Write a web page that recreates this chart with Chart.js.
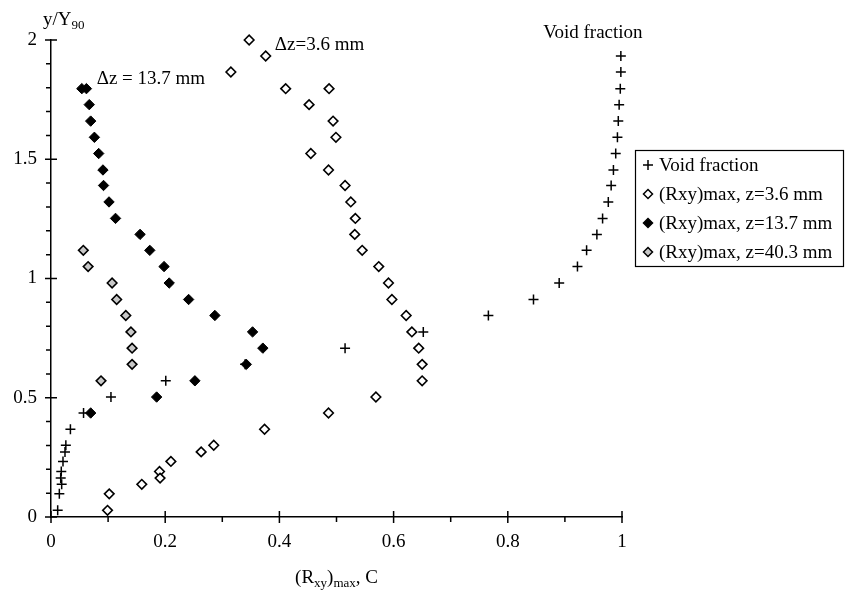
<!DOCTYPE html>
<html>
<head>
<meta charset="utf-8">
<script src="https://cdn.jsdelivr.net/npm/chart.js@4.4.1/dist/chart.umd.min.js"></script>
<style>
  body { margin: 0; background: #fff; }
  canvas { display: block; }
</style>
</head>
<body>
<canvas id="chart" width="849" height="590"></canvas>
<script>
// values
const voidX = [0.998, 0.998, 0.997, 0.995, 0.9935, 0.992, 0.989, 0.985, 0.981, 0.976, 0.966, 0.956, 0.938, 0.922,
  0.890, 0.845, 0.766, 0.652, 0.515, 0.340, 0.201, 0.105, 0.057, 0.034, 0.026, 0.0245, 0.021, 0.018, 0.017, 0.0187, 0.0146, 0.0117];
const voidY = [1.933, 1.866, 1.796, 1.729, 1.66, 1.592, 1.524, 1.455, 1.39, 1.321, 1.252, 1.185, 1.118, 1.05,
  0.981, 0.912, 0.845, 0.776, 0.708, 0.64, 0.571, 0.503, 0.436, 0.368, 0.301, 0.273, 0.233, 0.191, 0.163, 0.137, 0.097, 0.028];

const rxy36X = [0.347, 0.376, 0.315, 0.411, 0.487, 0.452, 0.494, 0.499, 0.455, 0.486, 0.515, 0.525, 0.533, 0.532, 0.545, 0.574,
  0.591, 0.597, 0.622, 0.632, 0.644, 0.650, 0.650, 0.569, 0.486, 0.374, 0.285, 0.263, 0.210, 0.190, 0.191, 0.159, 0.102, 0.099];
const rxy36Y = [2.0, 1.933, 1.866, 1.796, 1.796, 1.729, 1.66, 1.592, 1.524, 1.455, 1.39, 1.321, 1.252, 1.185, 1.118, 1.05,
  0.981, 0.912, 0.845, 0.776, 0.708, 0.64, 0.571, 0.503, 0.436, 0.368, 0.301, 0.273, 0.233, 0.191, 0.163, 0.137, 0.097, 0.028];

const rxy137X = [0.054, 0.062, 0.067, 0.0695, 0.076, 0.0835, 0.091, 0.092, 0.1016, 0.113, 0.156, 0.173, 0.198,
  0.207, 0.241, 0.287, 0.353, 0.371, 0.342, 0.252, 0.185, 0.0695];
const rxy137Y = [1.796, 1.796, 1.729, 1.66, 1.592, 1.524, 1.455, 1.39, 1.321, 1.252, 1.185, 1.118, 1.05,
  0.981, 0.912, 0.845, 0.776, 0.708, 0.64, 0.571, 0.503, 0.436];

const rxy403X = [0.0566, 0.065, 0.107, 0.115, 0.131, 0.140, 0.142, 0.142, 0.0876];
const rxy403Y = [1.118, 1.05, 0.981, 0.912, 0.845, 0.776, 0.708, 0.64, 0.571];

const seriesNames = ['Void fraction', '(Rxy)max, z=3.6 mm', '(Rxy)max, z=13.7 mm', '(Rxy)max, z=40.3 mm'];
const xMajorLabels = [0, 0.2, 0.4, 0.6, 0.8, 1];
const yMajorLabels = [0, 0.5, 1, 1.5, 2];

const FONT = '"Liberation Serif", "Times New Roman", serif';

function toPoints(xs, ys) {
  return xs.map((x, i) => ({ x: x, y: ys[i] }));
}

function isMajor(v, list) {
  return list.some(m => Math.abs(m - v) < 1e-6);
}

// draw a small legend symbol like the chart markers
function drawSymbol(ctx, kind, cx, cy) {
  ctx.save();
  ctx.lineWidth = 1.5;
  ctx.strokeStyle = '#000';
  if (kind === 'cross') {
    ctx.beginPath();
    ctx.moveTo(cx - 5, cy); ctx.lineTo(cx + 5, cy);
    ctx.moveTo(cx, cy - 5); ctx.lineTo(cx, cy + 5);
    ctx.stroke();
  } else {
    ctx.beginPath();
    ctx.moveTo(cx, cy - 4.5); ctx.lineTo(cx + 4.5, cy); ctx.lineTo(cx, cy + 4.5); ctx.lineTo(cx - 4.5, cy);
    ctx.closePath();
    ctx.fillStyle = kind;
    ctx.fill();
    ctx.stroke();
  }
  ctx.restore();
}

const decorPlugin = {
  id: 'decor',
  afterDraw(chart) {
    const ctx = chart.ctx;
    const xs = chart.scales.x, ys = chart.scales.y;
    const x0 = xs.getPixelForValue(0), y0 = ys.getPixelForValue(0);
    ctx.save();
    ctx.strokeStyle = '#000';
    ctx.lineWidth = 1.5;
    ctx.beginPath();
    ys.ticks.forEach(t => {
      const py = ys.getPixelForValue(t.value);
      if (isMajor(t.value, yMajorLabels)) { ctx.moveTo(x0 - 6, py); ctx.lineTo(x0 + 6, py); }
      else { ctx.moveTo(x0 - 5, py); ctx.lineTo(x0, py); }
    });
    xs.ticks.forEach(t => {
      const px = xs.getPixelForValue(t.value);
      if (isMajor(t.value, xMajorLabels)) { ctx.moveTo(px, y0 - 6); ctx.lineTo(px, y0 + 6); }
      else { ctx.moveTo(px, y0); ctx.lineTo(px, y0 + 5); }
    });
    ctx.stroke();

    ctx.fillStyle = '#000';
    ctx.textBaseline = 'alphabetic';
    // axis titles
    ctx.font = '19px ' + FONT;
    ctx.textAlign = 'left';
    ctx.fillText('y/Y', 43, 25);
    let w = ctx.measureText('y/Y').width;
    ctx.font = '13px ' + FONT;
    ctx.fillText('90', 43 + w, 29);

    const parts = [['(R', 19, 0], ['xy', 13, 4], [')', 19, 0], ['max', 13, 4], [', C', 19, 0]];
    let total = 0;
    parts.forEach(p => { ctx.font = p[1] + 'px ' + FONT; total += ctx.measureText(p[0]).width; });
    let tx = (chart.chartArea.left + chart.chartArea.right) / 2 - total / 2;
    parts.forEach(p => {
      ctx.font = p[1] + 'px ' + FONT;
      ctx.fillText(p[0], tx, 583 + p[2]);
      tx += ctx.measureText(p[0]).width;
    });

    // annotations
    ctx.font = '19px ' + FONT;
    ctx.textBaseline = 'middle';
    ctx.textAlign = 'center';
    ctx.fillText('Void fraction', xs.getPixelForValue(0.949), ys.getPixelForValue(2.03));
    ctx.textAlign = 'left';
    ctx.fillText('\u0394z=3.6 mm', xs.getPixelForValue(0.392), ys.getPixelForValue(1.977));
    ctx.fillText('\u0394z = 13.7 mm', xs.getPixelForValue(0.080), ys.getPixelForValue(1.835));

    // legend
    ctx.lineWidth = 1.2;
    ctx.strokeRect(635.5, 150.5, 208, 116);
    const kinds = ['cross', '#fff', '#000', '#c8c8c8'];
    const rows = [165, 194, 223, 252];
    seriesNames.forEach((name, i) => {
      drawSymbol(ctx, kinds[i], 648, rows[i]);
      ctx.fillStyle = '#000';
      ctx.font = '19px ' + FONT;
      ctx.textAlign = 'left';
      ctx.textBaseline = 'middle';
      ctx.fillText(name, 659, rows[i] + 1);
    });
    ctx.restore();
  }
};

new Chart(document.getElementById('chart'), {
  type: 'scatter',
  data: {
    datasets: [
      { label: seriesNames[0], data: toPoints(voidX, voidY), pointStyle: 'cross', pointRadius: 5,
        borderColor: '#000', borderWidth: 1.5, clip: false },
      { label: seriesNames[1], data: toPoints(rxy36X, rxy36Y), pointStyle: 'rectRot', pointRadius: 4.8,
        borderColor: '#000', backgroundColor: '#fff', borderWidth: 1.6, clip: false },
      { label: seriesNames[2], data: toPoints(rxy137X, rxy137Y), pointStyle: 'rectRot', pointRadius: 5.2,
        borderColor: '#000', backgroundColor: '#000', borderWidth: 1, clip: false },
      { label: seriesNames[3], data: toPoints(rxy403X, rxy403Y), pointStyle: 'rectRot', pointRadius: 4.8,
        borderColor: '#000', backgroundColor: '#c8c8c8', borderWidth: 1.6, clip: false }
    ]
  },
  options: {
    responsive: false,
    animation: false,
    events: [],
    layout: { padding: { left: 0, top: 40, right: 227, bottom: 0 } },
    plugins: { legend: { display: false }, tooltip: { enabled: false } },
    scales: {
      x: {
        type: 'linear', min: 0, max: 1,
        afterFit: s => { s.height = 73; },
        grid: { display: false },
        border: { display: true, color: '#000', width: 1.5 },
        ticks: {
          stepSize: 0.1, autoSkip: false, maxRotation: 0, padding: 6, color: '#000',
          font: { family: FONT, size: 19 },
          callback: v => isMajor(v, xMajorLabels) ? String(Math.round(v * 10) / 10) : ''
        }
      },
      y: {
        type: 'linear', min: 0, max: 2,
        afterFit: s => { s.width = 51; },
        grid: { display: false },
        border: { display: true, color: '#000', width: 1.5 },
        ticks: {
          stepSize: 0.1, autoSkip: false, padding: 6, color: '#000',
          font: { family: FONT, size: 19 },
          callback: v => isMajor(v, yMajorLabels) ? String(Math.round(v * 10) / 10) : ''
        }
      }
    }
  },
  plugins: [decorPlugin]
});
</script>
</body>
</html>
